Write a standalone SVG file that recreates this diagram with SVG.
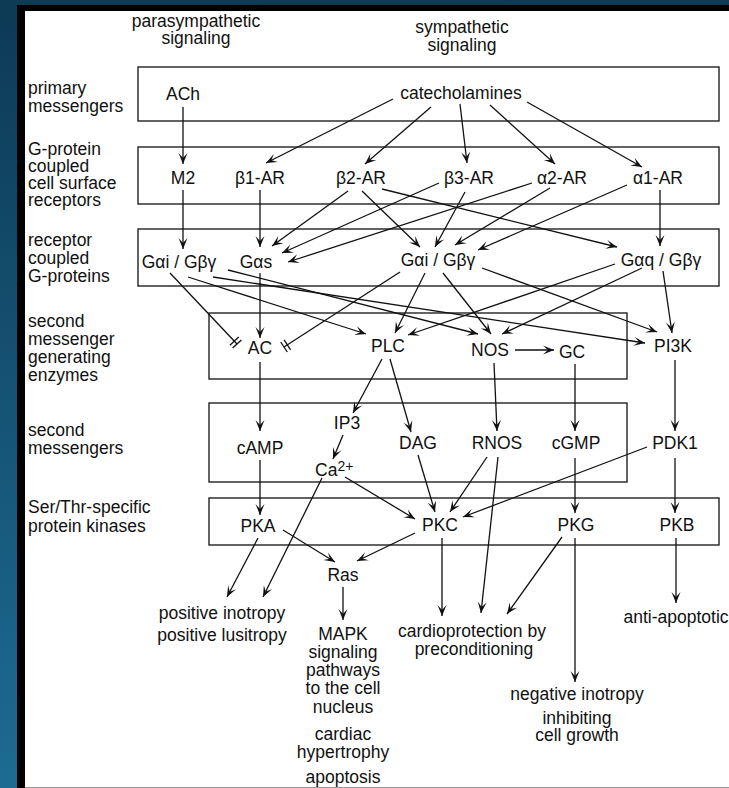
<svg xmlns="http://www.w3.org/2000/svg" width="729" height="788" viewBox="0 0 729 788">
  <defs>
    <linearGradient id="frameGrad" x1="0" y1="0" x2="0" y2="1">
      <stop offset="0" stop-color="#0d3a55"/>
      <stop offset="1" stop-color="#1d6b93"/>
    </linearGradient>
    <marker id="arr" viewBox="-12 -6 13 12" refX="0" refY="0" markerWidth="13" markerHeight="12" markerUnits="userSpaceOnUse" orient="auto">
      <path d="M0,0 L-11,-4.5 L-6,0 L-11,4.5 Z" fill="#111"/>
    </marker>
    <style>
      text { font-family: "Liberation Sans", Arial, sans-serif; font-size: 17.5px; fill: #111; }
      .c { text-anchor: middle; }
      .band { fill: none; stroke: #222; stroke-width: 1.4; }
      .e { fill: none; stroke: #111; stroke-width: 1.3; }
      .a { marker-end: url(#arr); }
    </style>
  </defs>

  <!-- page frame -->
  <rect x="0" y="0" width="729" height="788" fill="url(#frameGrad)"/>
  <rect x="17" y="5" width="712" height="783" fill="#000"/>
  <rect x="25" y="11" width="704" height="777" fill="#fff"/>
  <line x1="25" y1="787.5" x2="729" y2="787.5" stroke="#999" stroke-width="1"/>

  <!-- column headings -->
  <g id="headings">
    <text class="c" x="196" y="27">parasympathetic</text>
    <text class="c" x="196" y="44">signaling</text>
    <text class="c" x="462" y="33">sympathetic</text>
    <text class="c" x="462" y="51">signaling</text>
  </g>

  <!-- row labels -->
  <g id="rowLabels">
    <text x="28" y="94">primary</text>
    <text x="28" y="112">messengers</text>
    <text x="28" y="155">G-protein</text>
    <text x="28" y="172">coupled</text>
    <text x="28" y="189">cell surface</text>
    <text x="28" y="206">receptors</text>
    <text x="28" y="246">receptor</text>
    <text x="28" y="264">coupled</text>
    <text x="28" y="282">G-proteins</text>
    <text x="28" y="327">second</text>
    <text x="28" y="345">messenger</text>
    <text x="28" y="363">generating</text>
    <text x="28" y="381">enzymes</text>
    <text x="28" y="436">second</text>
    <text x="28" y="454">messengers</text>
    <text x="28" y="513">Ser/Thr-specific</text>
    <text x="28" y="532">protein kinases</text>
  </g>

  <!-- level bands -->
  <g id="bands">
    <rect class="band" x="138" y="67" width="581" height="54"/>
    <rect class="band" x="138" y="147" width="581" height="57"/>
    <rect class="band" x="138" y="229" width="581" height="57"/>
    <rect class="band" x="209" y="313" width="418" height="66"/>
    <rect class="band" x="209" y="403" width="418" height="79"/>
    <rect class="band" x="209" y="498" width="510" height="47"/>
  </g>

  <!-- connectors -->
  <g id="connectors">
    <!-- primary messengers to receptors -->
    <line class="e a" x1="183" y1="107" x2="183" y2="164"/>
    <line class="e a" x1="393" y1="99" x2="266" y2="163"/>
    <line class="e a" x1="431" y1="107" x2="365" y2="164"/>
    <line class="e a" x1="460" y1="104" x2="467" y2="163"/>
    <line class="e a" x1="490" y1="105" x2="555" y2="164"/>
    <line class="e a" x1="527" y1="102" x2="642" y2="167"/>

    <!-- receptors to G-proteins -->
    <line class="e a" x1="183" y1="190" x2="183" y2="249"/>
    <line class="e a" x1="260" y1="190" x2="260" y2="247"/>
    <line class="e a" x1="348" y1="191" x2="272" y2="246"/>
    <line class="e a" x1="439" y1="183" x2="282" y2="253"/>
    <line class="e a" x1="532" y1="183" x2="288" y2="262"/>
    <line class="e a" x1="362" y1="191" x2="420" y2="247"/>
    <line class="e a" x1="465" y1="192" x2="435" y2="247"/>
    <line class="e a" x1="550" y1="188" x2="455" y2="245"/>
    <line class="e a" x1="627" y1="185" x2="478" y2="250"/>
    <line class="e a" x1="382" y1="189" x2="617" y2="247"/>
    <line class="e a" x1="660" y1="190" x2="660" y2="246"/>

    <!-- G-proteins to enzymes -->
    <line class="e" x1="170" y1="273" x2="237" y2="344"/>
    <line class="e" x1="232.6" y1="348.1" x2="241.4" y2="339.9"/>
    <line class="e" x1="229.9" y1="345.2" x2="238.7" y2="337.0"/>
    <line class="e" x1="400" y1="272" x2="284" y2="347"/>
    <line class="e" x1="287.3" y1="352.0" x2="280.7" y2="342.0"/>
    <line class="e" x1="290.6" y1="349.8" x2="284.1" y2="339.8"/>
    <line class="e a" x1="260" y1="273" x2="260" y2="338"/>
    <line class="e a" x1="188" y1="277" x2="366" y2="334"/>
    <line class="e a" x1="228" y1="270" x2="478" y2="334"/>
    <line class="e a" x1="213" y1="277" x2="645" y2="343"/>
    <line class="e a" x1="425" y1="273" x2="395" y2="333"/>
    <line class="e a" x1="443" y1="273" x2="491" y2="334"/>
    <line class="e a" x1="482" y1="268" x2="657" y2="332"/>
    <line class="e a" x1="615" y1="264" x2="408" y2="335"/>
    <line class="e a" x1="642" y1="268" x2="502" y2="334"/>
    <line class="e a" x1="663" y1="271" x2="672" y2="333"/>
    <line class="e a" x1="515" y1="350" x2="554" y2="350"/>

    <!-- enzymes to second messengers -->
    <line class="e a" x1="260" y1="362" x2="260" y2="431"/>
    <line class="e a" x1="382" y1="359" x2="353" y2="413"/>
    <line class="e a" x1="390" y1="359" x2="411" y2="432"/>
    <line class="e a" x1="494" y1="363" x2="497" y2="431"/>
    <line class="e a" x1="575" y1="364" x2="575" y2="431"/>
    <line class="e a" x1="675" y1="360" x2="675" y2="431"/>
    <line class="e a" x1="343" y1="435" x2="333" y2="459"/>

    <!-- second messengers to kinases -->
    <line class="e a" x1="260" y1="460" x2="260" y2="515"/>
    <line class="e a" x1="345" y1="477" x2="415" y2="519"/>
    <line class="e a" x1="418" y1="455" x2="435" y2="512"/>
    <line class="e a" x1="487" y1="457" x2="450" y2="512"/>
    <line class="e a" x1="647" y1="447" x2="463" y2="517"/>
    <line class="e a" x1="575" y1="458" x2="575" y2="513"/>
    <line class="e a" x1="675" y1="458" x2="675" y2="513"/>

    <!-- kinases to effects -->
    <line class="e a" x1="283" y1="530" x2="335" y2="562"/>
    <line class="e a" x1="415" y1="533" x2="357" y2="561"/>
    <line class="e a" x1="258" y1="538" x2="227" y2="597"/>
    <line class="e a" x1="322" y1="478" x2="263" y2="597"/>
    <line class="e a" x1="343" y1="587" x2="343" y2="620"/>
    <line class="e a" x1="442" y1="538" x2="442" y2="616"/>
    <line class="e a" x1="498" y1="457" x2="481" y2="613"/>
    <line class="e a" x1="562" y1="537" x2="507" y2="614"/>
    <line class="e a" x1="575" y1="538" x2="575" y2="682"/>
    <line class="e a" x1="676" y1="538" x2="676" y2="603"/>
  </g>

  <!-- nodes -->
  <g id="ACh"><text class="c" x="183" y="100">ACh</text></g>
  <g id="catecholamines"><text class="c" x="461" y="99">catecholamines</text></g>

  <g id="M2"><text class="c" x="183" y="184">M2</text></g>
  <g id="b1AR"><text class="c" x="260" y="184">β1-AR</text></g>
  <g id="b2AR"><text class="c" x="361" y="184">β2-AR</text></g>
  <g id="b3AR"><text class="c" x="469" y="184">β3-AR</text></g>
  <g id="a2AR"><text class="c" x="562" y="184">α2-AR</text></g>
  <g id="a1AR"><text class="c" x="658" y="184">α1-AR</text></g>

  <g id="GaiLeft"><text class="c" x="179" y="268">Gαi / Gβγ</text></g>
  <g id="Gas"><text class="c" x="256" y="268">Gαs</text></g>
  <g id="GaiMid"><text class="c" x="438" y="266">Gαi / Gβγ</text></g>
  <g id="Gaq"><text class="c" x="661" y="266">Gαq / Gβγ</text></g>

  <g id="AC"><text class="c" x="260" y="354">AC</text></g>
  <g id="PLC"><text class="c" x="388" y="352">PLC</text></g>
  <g id="NOS"><text class="c" x="490" y="356">NOS</text></g>
  <g id="GC"><text class="c" x="572" y="358">GC</text></g>
  <g id="PI3K"><text class="c" x="673" y="352">PI3K</text></g>

  <g id="IP3"><text class="c" x="347" y="429">IP3</text></g>
  <g id="cAMP"><text class="c" x="260" y="454">cAMP</text></g>
  <g id="Ca"><text x="315" y="476">Ca<tspan dy="-5" font-size="14">2+</tspan></text></g>
  <g id="DAG"><text class="c" x="418" y="449">DAG</text></g>
  <g id="RNOS"><text class="c" x="497" y="449">RNOS</text></g>
  <g id="cGMP"><text class="c" x="576" y="449">cGMP</text></g>
  <g id="PDK1"><text class="c" x="675" y="449">PDK1</text></g>

  <g id="PKA"><text class="c" x="258" y="532">PKA</text></g>
  <g id="PKC"><text class="c" x="440" y="531">PKC</text></g>
  <g id="PKG"><text class="c" x="576" y="531">PKG</text></g>
  <g id="PKB"><text class="c" x="677" y="531">PKB</text></g>

  <g id="Ras"><text class="c" x="343" y="581">Ras</text></g>

  <g id="inotropy">
    <text class="c" x="222" y="619">positive inotropy</text>
    <text class="c" x="222" y="641">positive lusitropy</text>
  </g>
  <g id="MAPK">
    <text class="c" x="343" y="640">MAPK</text>
    <text class="c" x="343" y="658">signaling</text>
    <text class="c" x="343" y="676">pathways</text>
    <text class="c" x="343" y="694">to the cell</text>
    <text class="c" x="343" y="713">nucleus</text>
    <text class="c" x="343" y="740">cardiac</text>
    <text class="c" x="343" y="758">hypertrophy</text>
    <text class="c" x="343" y="783">apoptosis</text>
  </g>
  <g id="cardioprotection">
    <text class="c" x="472" y="637">cardioprotection by</text>
    <text class="c" x="474" y="655">preconditioning</text>
  </g>
  <g id="antiApoptotic"><text class="c" x="676" y="623">anti-apoptotic</text></g>
  <g id="negInotropy">
    <text class="c" x="577" y="700">negative inotropy</text>
    <text class="c" x="577" y="724">inhibiting</text>
    <text class="c" x="577" y="741">cell growth</text>
  </g>
</svg>
